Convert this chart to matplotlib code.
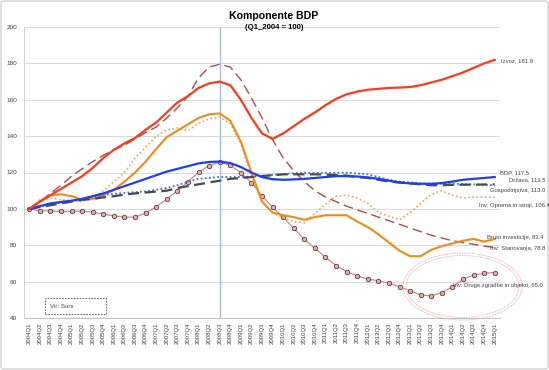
import matplotlib
matplotlib.use("Agg")
import matplotlib.pyplot as plt
from matplotlib.patches import Ellipse, Rectangle, FancyBboxPatch

quarters = [f"{y}Q{q}" for y in range(2004, 2015) for q in range(1, 5)] + ["2015Q1"]

izvoz = [100, 104, 107.5, 111, 114.5, 118, 122.5, 128, 132.5, 136, 139, 143.5, 147.5, 153,
         158.5, 162, 166.5, 169, 170, 168, 160, 150, 141.5, 138.5, 141.5, 145.5, 149.5, 153,
         157, 160.5, 163, 164.5, 165.5, 166, 166.5, 166.7, 167, 168, 169.5, 171, 173, 175,
         177.5, 180, 181.9]
stanovanja = [100, 104, 108.5, 113, 118, 122, 126, 129.5, 132.5, 135, 138.5, 142, 145, 150,
              155.5, 162, 172, 178, 179.5, 178, 171, 161, 150, 138, 128, 121, 115, 110, 106.5,
              104, 101.5, 99.5, 97.5, 95.5, 93.5, 91.5, 89.5, 87.5, 85.5, 84, 82.5, 81.5, 80.5,
              79.5, 78.8]
bruto = [100, 104, 107.5, 108, 107, 105, 105.5, 107.5, 110.5, 115, 120, 126, 133, 139.5, 143,
         146.5, 150, 152, 152.5, 148.5, 137, 120, 104, 98, 96.5, 95.5, 94, 95.5, 96.5, 96.5,
         96.5, 93, 90, 86, 81.5, 77, 74, 74, 77.5, 79.5, 81, 82.5, 83.5, 82, 83.4]
oprema = [100, 105, 106, 105, 104.5, 104, 106, 110, 115, 120, 128, 134, 140, 143.5, 144.5, 143,
          147, 149.5, 150.5, 147, 136, 118, 104, 98, 95, 93, 92.5, 97.5, 102.5, 107, 107.5,
          106, 103, 98, 96, 94, 98, 103, 108, 110, 107.5, 106, 106.5, 106.5, 106.4]
bdp = [100, 101.5, 103, 103.8, 104.5, 105.5, 107, 108.5, 110.5, 112.5, 114.5, 116.5, 118.5,
       120.5, 122, 123.5, 125, 125.8, 126, 125.2, 123, 120, 117.5, 116.3, 116, 116.2, 116.5,
       117, 117.5, 118, 118, 117.8, 117.3, 116.5, 115.5, 114.5, 114, 113.8, 113.8, 114.2, 115,
       116, 116.5, 117, 117.5]
drzava = [100, 101, 102, 103, 104, 105, 105.5, 106.3, 107, 107.8, 108.5, 109, 109.5, 110,
          111.5, 112.5, 113.5, 114.5, 115.5, 116.5, 117, 117.5, 118, 118.5, 119, 119, 119, 119,
          118.8, 118.6, 118.3, 117.5, 117, 116, 115, 114.5, 114, 113.5, 113, 113, 113.2, 113.3,
          113.3, 113.4, 113.5]
gospodinjstva = [100, 101.5, 102.5, 103.5, 104.5, 105.5, 106.5, 107.5, 108.3, 108.8, 109.2,
                 109.6, 110.5, 111.5, 113, 115, 116.5, 117, 117.5, 117.5, 117.5, 117.8, 118.2,
                 118.7, 119.2, 119.6, 119.8, 119.8, 119.8, 119.8, 119.8, 119.5, 119, 117.5, 116,
                 115, 114.5, 114, 113.8, 113.8, 113.8, 113.7, 113.5, 113.2, 113.0]
druge = [100, 99, 98.8, 98.6, 98.6, 98.8, 98.1, 97.2, 96.1, 95.4, 95.5, 97.7, 101.2, 105.4, 110,
         115, 120.1, 123.7, 125.6, 124.1, 119.9, 114.4, 107.2, 100.9, 95.4, 89.3, 83.3, 78.3,
         73.4, 68.8, 65.5, 63.1, 61.4, 60.5, 59.1, 57.2, 54.9, 52.7, 52.1, 54.0, 57.2, 61.3,
         63.6, 64.6, 65.0]

end_labels = ["Izvoz, 181.9", "BDP, 117.5", "Država, 113.5", "Gospodinjstva, 113.0",
              "Inv: Oprema in stroji, 106.4", "Bruto investicije, 83.4",
              "Inv: Stanovanja, 78.8", "Inv: Druge zgradbe in objekti, 65.0"]

W, H = 549, 370
fig = plt.figure(figsize=(W / 100, H / 100), dpi=100)
plt.rcParams['font.family'] = ['Liberation Sans', 'DejaVu Sans']

def fx(px):
    return px / W

def fy(py):
    return 1 - py / H

ax = fig.add_axes([fx(24), fy(318), fx(500) - fx(24), fy(27) - fy(318)])
x = list(range(len(quarters)))

ax.axvline(18, color='#A8B0F0', lw=0.8, zorder=1)

ax.plot(x, druge, color='#C4847E', lw=0.8, marker='o', ms=3.2, mfc='#E9AFAF',
        mec='#5A3A3A', mew=0.6, zorder=3)
ax.plot(x, stanovanja, color='#A5504D', lw=1.0, ls=(0, (7, 3.5)), zorder=3)
ax.plot(x, oprema, color='#F4A060', lw=1.2, ls=(0, (1, 1.5)), zorder=3)
ax.plot(x, bruto, color='#F28A17', lw=1.5, zorder=4)
ax.plot(x, gospodinjstva, color='#3F6FC0', lw=1.3, ls=(0, (1, 1.3)), zorder=4)
ax.plot(x, drzava, color='#4A4A4A', lw=1.6, ls=(0, (5, 2.5)), zorder=4)
ax.plot(x, bdp, color='#1E3EF5', lw=1.6, zorder=5)
ax.plot(x, izvoz, color='#FF3A1A', lw=1.6, zorder=5)

ax.set_xlim(-0.5, len(quarters) - 0.5)
ax.set_ylim(40, 200)
ax.set_yticks(range(40, 201, 20))
ax.set_xticks(x)
ax.set_xticklabels(quarters, rotation=90, fontsize=4.3, color='#404040')
ax.tick_params(axis='y', labelsize=4.6, colors='#404040', length=0, pad=5)
ax.tick_params(axis='x', length=0, pad=3)
ax.grid(axis='y', color='#D9D9D9', lw=0.7)
ax.set_axisbelow(True)
for s in ['top', 'right']:
    ax.spines[s].set_visible(False)
ax.spines['left'].set_color('#D0D0D0')
ax.spines['bottom'].set_color('#C0C0C0')
ax.spines['left'].set_linewidth(0.7)
ax.spines['bottom'].set_linewidth(0.7)

# figure border
fig.patches.append(FancyBboxPatch((fx(1), fy(369)), fx(547), fy(1) - fy(369),
                                  boxstyle='round,pad=0,rounding_size=0.006',
                                  transform=fig.transFigure, fill=False,
                                  edgecolor='#C8C8C8', lw=0.8))

fig.text(fx(274), fy(16), "Komponente BDP", ha='center', va='center',
         fontsize=7.6, fontweight='bold')
fig.text(fx(274), fy(27.5), "(Q1_2004 = 100)", ha='center', va='center',
         fontsize=5.6, fontweight='bold')

label_pos = [(501, 60.5), (500, 172.5), (509, 180), (490, 190.5), (479, 205),
             (487, 237.5), (490, 248.5), (453, 286)]
for txt, (px, py) in zip(end_labels, label_pos):
    fig.text(fx(px), fy(py), txt, ha='left', va='center', fontsize=4.2, color='#404040')

# source box
fig.patches.append(Rectangle((fx(45), fy(314)), fx(106) - fx(45), fy(298) - fy(314),
                             transform=fig.transFigure, fill=False, edgecolor='#505050',
                             lw=0.6, ls=(0, (2, 1.5))))
fig.text(fx(50), fy(306), "Vir: Surs", ha='left', va='center', fontsize=4.4, color='#404040')

# dotted ellipses
for w, h in [(119, 67), (113, 62)]:
    fig.patches.append(Ellipse((fx(462.5), fy(286.5)), fx(w), fy(0) - fy(h),
                               transform=fig.transFigure, fill=False, edgecolor='#F39A9A',
                               lw=0.6, ls=(0, (1, 1))))

fig.savefig("out.png", dpi=100)
